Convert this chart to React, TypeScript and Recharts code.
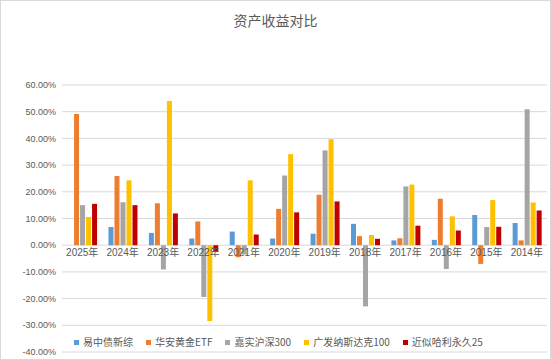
import React from "react";
import {
  BarChart,
  Bar,
  XAxis,
  YAxis,
  CartesianGrid,
  Legend,
} from "recharts";

const years = [
  "2025年", "2024年", "2023年", "2022年", "2021年", "2020年",
  "2019年", "2018年", "2017年", "2016年", "2015年", "2014年",
];
const bond = [null, 6.8, 4.6, 2.5, 5.1, 2.5, 4.3, 8.0, 1.8, 2.0, 11.3, 8.3];
const gold = [49.1, 25.9, 15.7, 8.9, -4.5, 13.6, 18.9, 3.4, 2.6, 17.4, -7.0, 1.8];
const hs300 = [15.0, 16.1, -9.1, -19.4, -3.5, 26.1, 35.5, -22.9, 22.0, -8.9, 6.8, 50.9];
const nasdaq = [10.6, 24.3, 54.0, -28.4, 24.3, 34.1, 39.7, 3.8, 22.7, 10.8, 16.9, 16.0];
const harry = [15.5, 15.0, 11.9, -2.5, 4.0, 12.3, 16.4, 2.4, 7.3, 5.5, 6.9, 13.0];
const seriesNames = ["易中债新综", "华安黄金ETF", "嘉实沪深300", "广发纳斯达克100", "近似哈利永久25"];
const yTicks = [-40, -30, -20, -10, 0, 10, 20, 30, 40, 50, 60];

const data = years.map((y, i) => ({
  name: y,
  bond: bond[i],
  gold: gold[i],
  hs300: hs300[i],
  nasdaq: nasdaq[i],
  harry: harry[i],
}));

const FONT = '"Liberation Sans", "Noto Sans CJK SC", sans-serif';
const TOP = 84;
const AXIS_H = 7;
const HEIGHT = 358;
const PLOT_H = HEIGHT - AXIS_H - TOP;
// distance from bottom of plot to the 0% line
const ZERO_SHIFT = (PLOT_H * (0 - yTicks[0])) / (yTicks[yTicks.length - 1] - yTicks[0]);

const renderYearTick = (props: any) => {
  const { x, y, payload, index } = props;
  return (
    <text
      key={index}
      x={x}
      y={y - ZERO_SHIFT}
      dy={11}
      textAnchor="middle"
      fill="#595959"
      fontSize={10}
      fontFamily={FONT}
    >
      {payload.value}
    </text>
  );
};

const renderLegend = (props: any) => {
  const items = [...(props.payload || [])].sort(
    (a: any, b: any) => seriesNames.indexOf(a.value) - seriesNames.indexOf(b.value)
  );
  return (
    <div
      style={{
        display: "flex",
        justifyContent: "center",
        gap: 13,
        paddingLeft: 6,
        fontSize: 10,
        color: "#595959",
        fontFamily: '"Noto Sans CJK SC", sans-serif',
        lineHeight: "14px",
      }}
    >
      {items.map((it: any) => (
        <div key={it.value} style={{ display: "flex", alignItems: "center" }}>
          <span
            style={{
              display: "inline-block",
              width: 5,
              height: 5,
              background: it.color,
              marginRight: 4,
            }}
          />
          <span>{it.value}</span>
        </div>
      ))}
    </div>
  );
};

export default function App() {
  return (
    <div
      style={{
        position: "absolute",
        left: 0,
        top: 0,
        width: 551,
        height: 360,
        border: "1px solid #d9d9d9",
        boxSizing: "border-box",
        background: "#fff",
        fontFamily: FONT,
      }}
    >
      <div
        style={{
          position: "absolute",
          top: 9,
          width: "100%",
          textAlign: "center",
          fontSize: 14,
          color: "#595959",
          fontFamily: FONT,
        }}
      >
        资产收益对比
      </div>
      <BarChart
        width={549}
        height={HEIGHT}
        data={data}
        margin={{ top: TOP, right: 3, left: 0, bottom: 0 }}
        barCategoryGap="15%"
        barGap={1}
        style={{ position: "absolute", left: 0, top: 0 }}
      >
        <CartesianGrid vertical={false} stroke="#d9d9d9" />
        <XAxis
          dataKey="name"
          height={AXIS_H}
          axisLine={false}
          tickLine={false}
          tickSize={0}
          tickMargin={0}
          tick={renderYearTick}
          interval={0}
        />
        <YAxis
          width={61}
          domain={[-40, 60]}
          ticks={yTicks}
          axisLine={false}
          tickLine={false}
          tickSize={0}
          tickMargin={6}
          tickFormatter={(v: number) => v.toFixed(2) + "%"}
          tick={{ fill: "#595959", fontSize: 9, fontFamily: FONT }}
        />
        <Legend
          verticalAlign="middle"
          align="center"
          layout="horizontal"
          content={renderLegend}
          wrapperStyle={{ top: 334, left: 0, width: 549 }}
        />
        <Bar dataKey="bond" name={seriesNames[0]} fill="#5B9BD5" isAnimationActive={false} />
        <Bar dataKey="gold" name={seriesNames[1]} fill="#ED7D31" isAnimationActive={false} />
        <Bar dataKey="hs300" name={seriesNames[2]} fill="#A5A5A5" isAnimationActive={false} />
        <Bar dataKey="nasdaq" name={seriesNames[3]} fill="#FFC000" isAnimationActive={false} />
        <Bar dataKey="harry" name={seriesNames[4]} fill="#C00000" isAnimationActive={false} />
      </BarChart>
    </div>
  );
}
